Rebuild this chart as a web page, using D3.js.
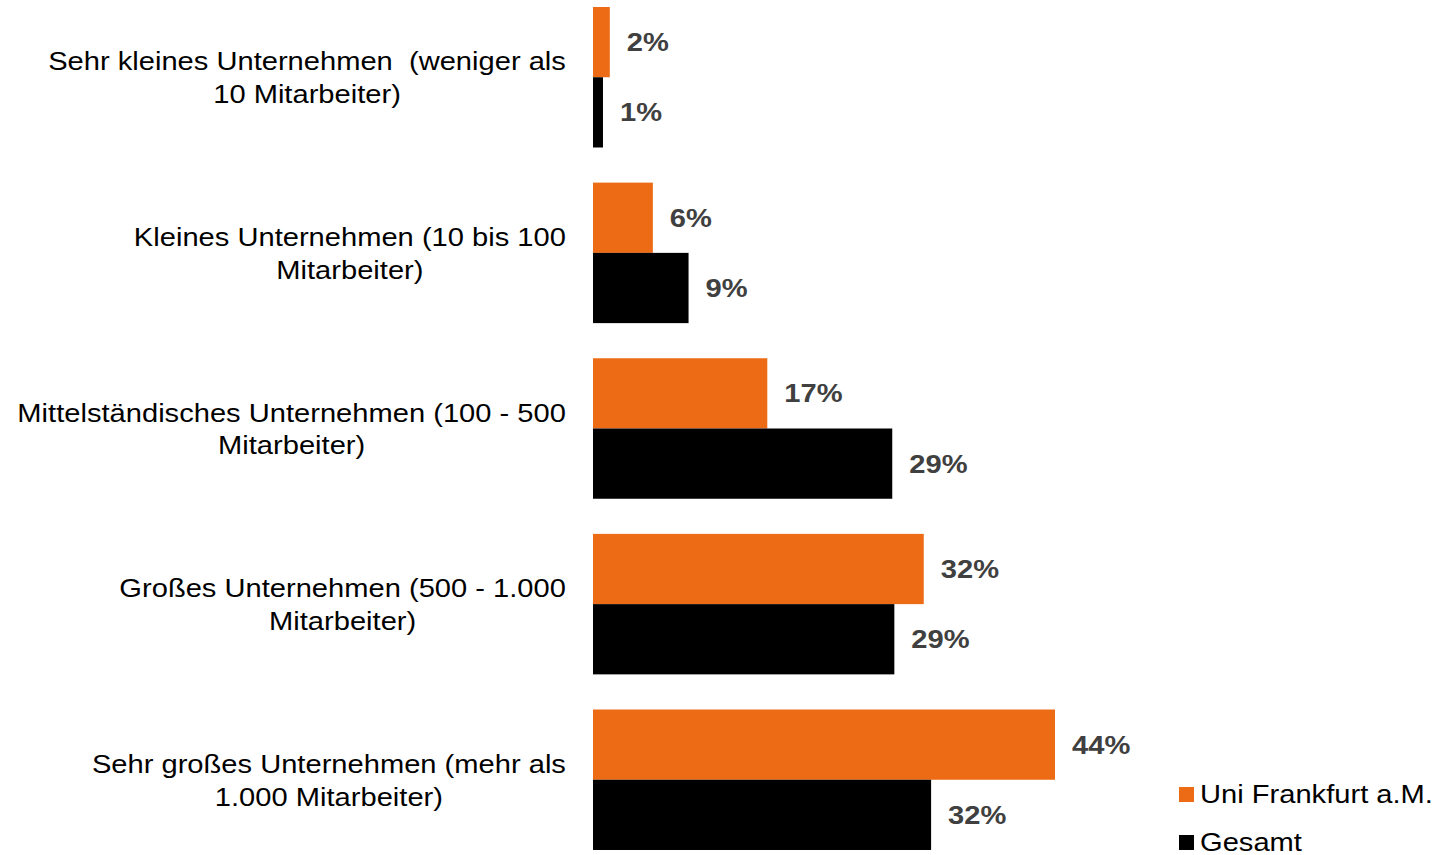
<!DOCTYPE html>
<html>
<head>
<meta charset="utf-8">
<script src="https://cdn.jsdelivr.net/npm/d3@7"></script>
<style>
  body { margin: 0; background: #fff; }
  text { font-family: Arial, "Liberation Sans", sans-serif; }
</style>
</head>
<body>
<div id="chart"></div>
<script>
// categories (each split into the two lines shown in the chart)
var categories = [
  ["Sehr kleines Unternehmen  (weniger als", "10 Mitarbeiter)"],
  ["Kleines Unternehmen (10 bis 100", "Mitarbeiter)"],
  ["Mittelständisches Unternehmen (100 - 500", "Mitarbeiter)"],
  ["Großes Unternehmen (500 - 1.000", "Mitarbeiter)"],
  ["Sehr großes Unternehmen (mehr als", "1.000 Mitarbeiter)"]
];
var seriesNames = ["Uni Frankfurt a.M.", "Gesamt"];
var uniFrankfurt = [1.6, 5.7, 16.6, 31.5, 44.0];
var gesamt = [0.95, 9.1, 28.5, 28.7, 32.2];
var colors = ["#ec6b14", "#000000"];

var width = 1435, height = 855;
var x0 = 593;
var stretch = 1.12; // text in the original is a little wider than normal

var svg = d3.select("#chart").append("svg")
    .attr("width", width)
    .attr("height", height);

var y = d3.scaleBand()
    .domain(d3.range(categories.length))
    .range([7, 850])
    .paddingInner(0.2)
    .paddingOuter(0);

var ySub = d3.scaleBand()
    .domain(seriesNames)
    .range([0, y.bandwidth()]);

var x = d3.scaleLinear()
    .domain([0, 50])
    .range([0, 525]);

var data = [];
categories.forEach(function(c, i) {
  data.push({cat: i, series: seriesNames[0], value: uniFrankfurt[i], color: colors[0]});
  data.push({cat: i, series: seriesNames[1], value: gesamt[i], color: colors[1]});
});

var g = svg.append("g").attr("transform", "translate(" + x0 + ",0)");

g.selectAll(".bar")
  .data(data)
  .enter().append("rect")
    .attr("class", "bar")
    .attr("x", 0)
    .attr("y", function(d) { return y(d.cat) + ySub(d.series); })
    .attr("width", function(d) { return x(d.value); })
    .attr("height", ySub.bandwidth())
    .style("fill", function(d) { return d.color; });

g.selectAll(".val")
  .data(data)
  .enter().append("g")
    .attr("class", "val")
    .attr("transform", function(d) {
      return "translate(" + (x(d.value) + 17) + "," + (y(d.cat) + ySub(d.series) + ySub.bandwidth() / 2 + 9) + ") scale(" + stretch + ",1)";
    })
  .append("text")
    .style("font-size", "26px")
    .style("font-weight", "bold")
    .style("fill", "#404040")
    .text(function(d) { return Math.round(d.value) + "%"; });

// category labels: centered block, right edge at 566
var labelRight = 566;
categories.forEach(function(lines, i) {
  var cy = y(i) + y.bandwidth() / 2;
  var lg = svg.append("g");
  var t = lg.append("text")
    .style("font-size", "26px")
    .style("fill", "#000")
    .style("white-space", "pre")
    .attr("text-anchor", "middle");
  var tspans = lines.map(function(line, j) {
    return t.append("tspan")
      .attr("x", 0)
      .attr("y", j * 33)
      .text(line);
  });
  var maxW = d3.max(tspans, function(ts) { return ts.node().getComputedTextLength(); }) * stretch;
  lg.attr("transform", "translate(" + (labelRight - maxW / 2) + "," + (cy - 7) + ") scale(" + stretch + ",1)");
});

// legend
var legend = svg.append("g");
seriesNames.forEach(function(name, i) {
  var ly = 803 + i * 48;
  legend.append("rect")
    .attr("x", 1179)
    .attr("y", ly - 16)
    .attr("width", 15)
    .attr("height", 15)
    .style("fill", colors[i]);
  legend.append("g")
    .attr("transform", "translate(1200," + ly + ") scale(" + stretch + ",1)")
  .append("text")
    .style("font-size", "26px")
    .style("fill", "#000")
    .text(name);
});
</script>
</body>
</html>
